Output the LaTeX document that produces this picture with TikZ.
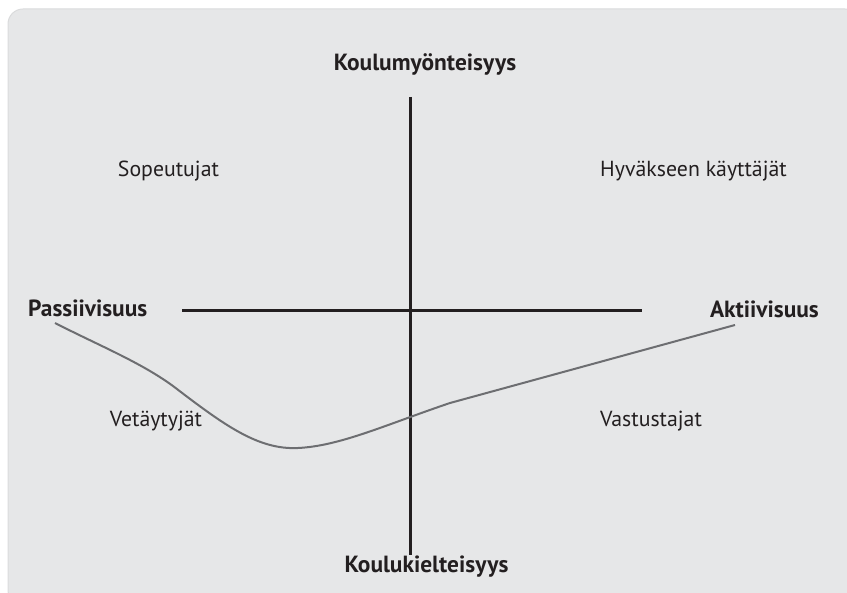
\documentclass[tikz,border=0pt]{standalone}
\usepackage{fontspec}
\setmainfont{PT Sans}
\definecolor{bgfill}{RGB}{230,231,232}
\definecolor{bgedge}{RGB}{218,219,220}
\definecolor{axiscol}{RGB}{35,31,32}
\definecolor{curvecol}{RGB}{109,110,113}
\begin{document}
\begin{tikzpicture}[x=1pt,y=-1pt,
  axis/.style={line width=3pt,draw=axiscol},
  curve/.style={line width=2pt,draw=curvecol},
  axlabel/.style={font=\fontsize{23.4}{28}\selectfont\bfseries,text=axiscol,anchor=base,inner sep=0pt},
  qlabel/.style={font=\fontsize{21.8}{26}\selectfont,text=axiscol,anchor=base,inner sep=0pt}]
\useasboundingbox (0,0) rectangle (847,593);
\fill[bgfill,draw=bgedge,line width=1pt,rounded corners=15pt] (8,9) rectangle (860,605);
% axes
\coordinate (vtop) at (410,97);
\coordinate (vbot) at (410,555);
\coordinate (hleft) at (182,311);
\coordinate (hright) at (642,311);
\draw[axis] (vtop) -- (vbot);
\draw[axis] (hleft) -- (hright);
% labels
\node[axlabel] (top) at (425,71) {Koulumyönteisyys};
\node[axlabel] (bottom) at (426.5,573) {Koulukielteisyys};
\node[axlabel,anchor=base west] (passive) at (28,317) {Passiivisuus};
\node[axlabel,anchor=base east] (active) at (819,318) {Aktiivisuus};
\node[qlabel] (q1) at (168.5,177) {Sopeutujat};
\node[qlabel] (q2) at (693.5,177) {Hyväkseen käyttäjät};
\node[qlabel] (q3) at (156,427) {Vetäytyjät};
\node[qlabel] (q4) at (651,427) {Vastustajat};
% curve
\coordinate (cstart) at (55,323);
\coordinate (cend) at (735,325);
\draw[curve] (cstart) .. controls (100,346) and (140,362) .. (173,386)
  .. controls (224,425) and (258,450) .. (298,448)
  .. controls (340,446) and (385,425) .. (450,403)
  -- (cend);
\end{tikzpicture}
\end{document}
